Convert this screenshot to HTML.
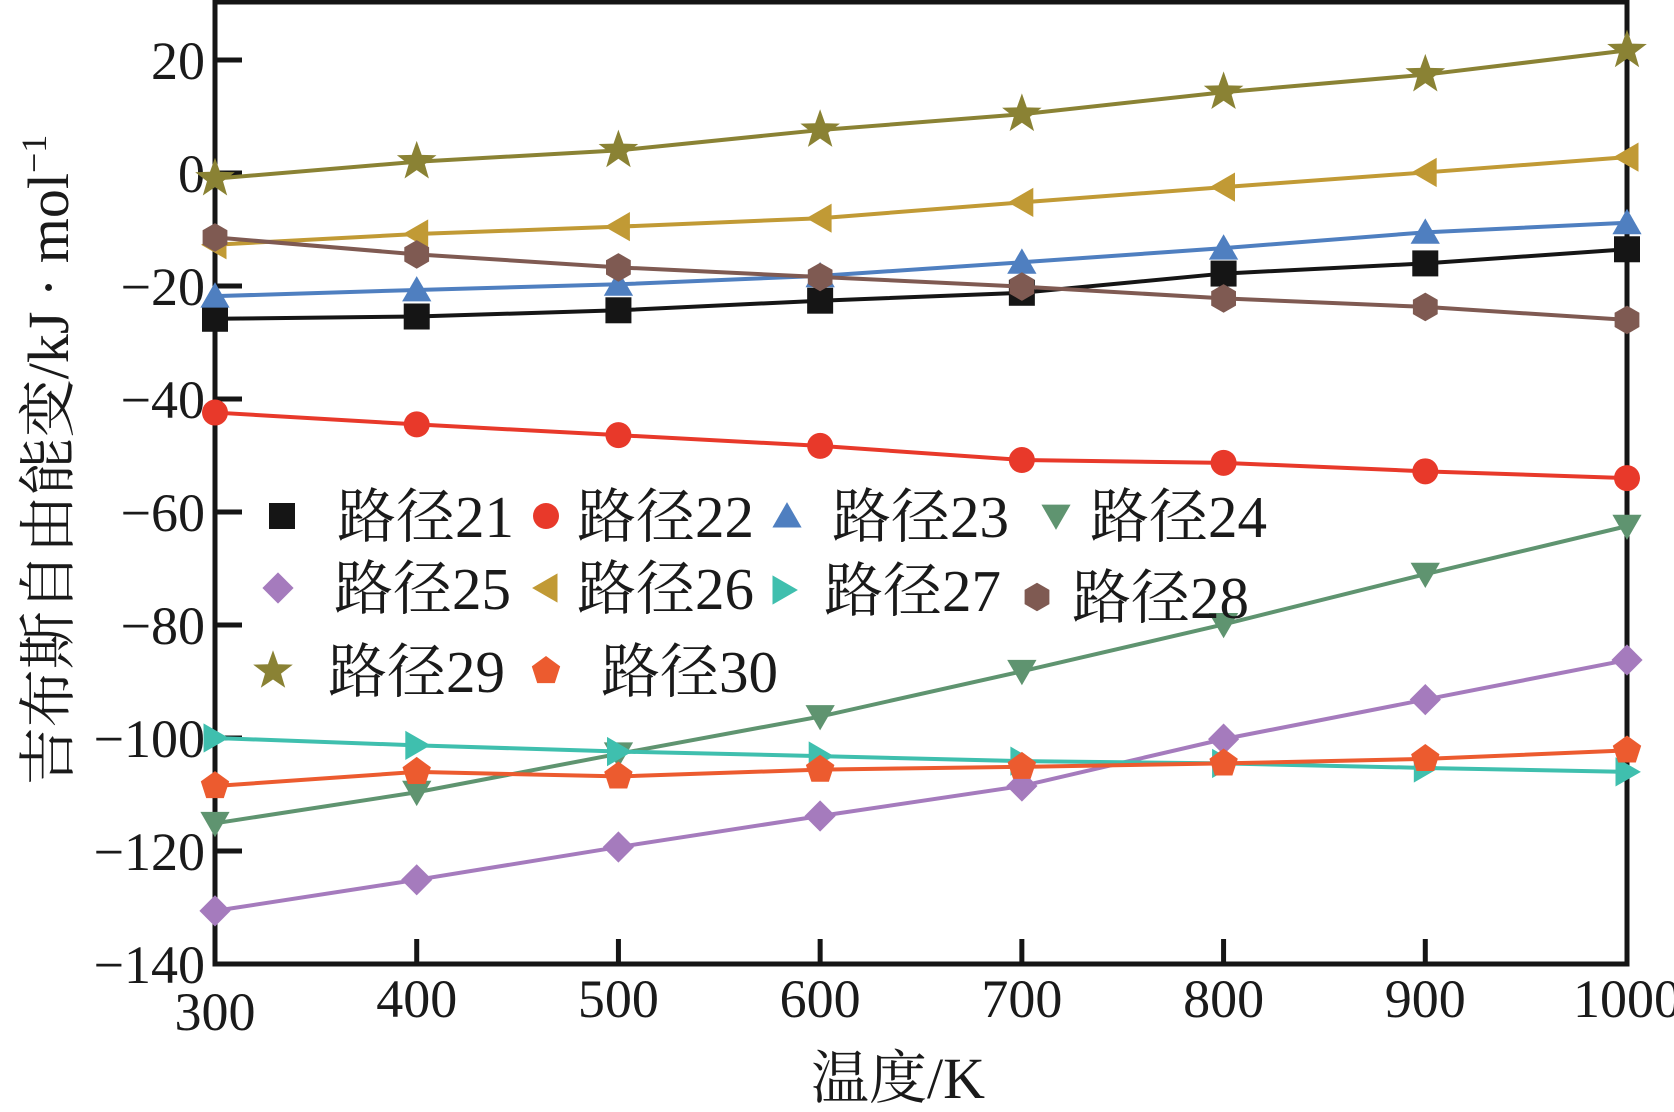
<!DOCTYPE html>
<html><head><meta charset="utf-8"><style>
html,body{margin:0;padding:0;background:#fff;}
svg{display:block;}
text{font-family:"Liberation Serif","Noto Serif CJK SC","Noto Sans CJK SC",serif;fill:#1a1a1a;}
</style></head><body>
<svg id="chart" width="1674" height="1112" viewBox="0 0 1674 1112" xmlns="http://www.w3.org/2000/svg">
<g id="plot"></g>
</svg>
<script>
const temps = [300,400,500,600,700,800,900,1000];
const xTicks = [300,400,500,600,700,800,900,1000];
const yTicks = [20,0,-20,-40,-60,-80,-100,-120,-140];
const names = ['路径21','路径22','路径23','路径24','路径25','路径26','路径27','路径28','路径29','路径30'];
const s21 = [-25.8,-25.4,-24.3,-22.6,-21.2,-17.8,-16,-13.5];
const s22 = [-42.4,-44.5,-46.4,-48.3,-50.8,-51.3,-52.8,-54];
const s23 = [-21.8,-20.7,-19.7,-18.2,-15.8,-13.3,-10.5,-8.8];
const s24 = [-115.1,-109.6,-102.8,-96.2,-88.2,-79.9,-71,-62.5];
const s25 = [-130.6,-125.1,-119.3,-113.8,-108.5,-100.2,-93.2,-86.2];
const s26 = [-12.7,-10.8,-9.5,-8,-5.2,-2.5,0.1,2.8];
const s27 = [-100,-101.3,-102.4,-103.2,-104.1,-104.5,-105.3,-106];
const s28 = [-11.4,-14.4,-16.7,-18.4,-20.1,-22.2,-23.7,-26];
const s29 = [-1,2,4,7.6,10.4,14.3,17.4,21.7];
const s30 = [-108.5,-106,-106.8,-105.6,-105.1,-104.5,-103.7,-102.2];
const seriesData = [s21,s22,s23,s24,s25,s26,s27,s28,s29,s30];
const colors = ['#151515','#e8392a','#4f7fc0','#5f9470','#a57bbd','#c19a35','#3fbfae','#7f5a52','#8a8234','#ec5b2f'];
const shapes = ['square','circle','up','down','diamond','left','right','hexagon','star','pentagon'];

const X0=215,X1=1627,Y0=964,Y1=2;
const xs = v => X0 + (v-300)/700*(X1-X0);
const ys = v => 60 + (20-v)/160*(964-60);
const NS='http://www.w3.org/2000/svg';
const g=document.getElementById('plot');
function el(t,a,p){const e=document.createElementNS(NS,t);for(const k in a)e.setAttribute(k,a[k]);(p||g).appendChild(e);return e;}
function poly(n,r,rot,cx,cy,inner){let pts=[];const m=inner?n*2:n;for(let i=0;i<m;i++){const rr=inner&&i%2?inner:r;const a=rot+i*Math.PI*2/m;pts.push((cx+rr*Math.cos(a)).toFixed(1)+','+(cy+rr*Math.sin(a)).toFixed(1));}return pts.join(' ');}
function marker(shape,cx,cy,c,parent){
  const s=13;let e;
  if(shape==='square')e=el('rect',{x:cx-s,y:cy-s,width:2*s,height:2*s,fill:c},parent);
  else if(shape==='circle')e=el('circle',{cx:cx,cy:cy,r:s,fill:c},parent);
  else if(shape==='up')e=el('polygon',{points:poly(3,s*1.3,-Math.PI/2,cx,cy+3),fill:c},parent);
  else if(shape==='down')e=el('polygon',{points:poly(3,s*1.3,Math.PI/2,cx,cy-3),fill:c},parent);
  else if(shape==='left')e=el('polygon',{points:poly(3,s*1.3,Math.PI,cx+3,cy),fill:c},parent);
  else if(shape==='right')e=el('polygon',{points:poly(3,s*1.3,0,cx-3,cy),fill:c},parent);
  else if(shape==='diamond')e=el('polygon',{points:poly(4,s*1.2,0,cx,cy),fill:c},parent);
  else if(shape==='hexagon')e=el('polygon',{points:poly(6,s*1.1,-Math.PI/2,cx,cy),fill:c},parent);
  else if(shape==='pentagon')e=el('polygon',{points:poly(5,s*1.15,-Math.PI/2,cx,cy),fill:c},parent);
  else if(shape==='star')e=el('polygon',{points:poly(5,s*1.6,-Math.PI/2,cx,cy,s*0.65),fill:c},parent);
  return e;
}
const frame=el('rect',{x:X0,y:Y1,width:X1-X0,height:Y0-Y1,fill:'none',stroke:'#151515','stroke-width':5});


xTicks.forEach(v=>{
  const t=el('line',{x1:xs(v),x2:xs(v),y1:Y0,y2:Y0-25,stroke:'#151515','stroke-width':5});
  
  
  const l=el('text',{x:xs(v),y:v===300?1030:1017,'font-size':54,'text-anchor':'middle'});
  l.textContent=v;
  
  
});
yTicks.forEach(v=>{
  const t=el('line',{x1:X0,x2:X0+27,y1:ys(v),y2:ys(v),stroke:'#151515','stroke-width':5});
  
  
  const l=el('text',{x:205,y:ys(v)+19,'font-size':54,'text-anchor':'end'});
  l.textContent=v<0?'\u2212'+(-v):v;
  
  
});
seriesData.forEach((d,i)=>{
  const grp=el('g',{});
  
  
  const pl=el('polyline',{points:d.map((v,j)=>xs(temps[j])+','+ys(v)).join(' '),fill:'none',stroke:colors[i],'stroke-width':4},grp);
  
  
  d.forEach((v,j)=>{
    const m=marker(shapes[i],xs(temps[j]),ys(v),colors[i],grp);
    
    
  });
});
const legPos=[[282,337,516],[546,577,516],[787,832,516],[1056,1090,516],[278,334,588],[546,577,588],[784,824,590],[1037,1072,597],[273,328,671],[546,601,671]];
const lg=el('g',{});


legPos.forEach((p,i)=>{
  const m=marker(shapes[i],p[0],p[2],colors[i],lg);
  
  
  const t=el('text',{x:p[1],y:p[2]+21,'font-size':59},lg);
  t.textContent=names[i];
  
  
});
const xt=el('text',{x:898,y:1098,'font-size':58,'text-anchor':'middle'});
xt.textContent='温度/K';


const yt=el('text',{x:0,y:0,'font-size':58,'text-anchor':'middle',transform:'translate(68,460) rotate(-90)'});
yt.innerHTML='吉布斯自由能变/kJ · mol<tspan dy="-22" font-size="36">−1</tspan>';


</script>
</body></html>
